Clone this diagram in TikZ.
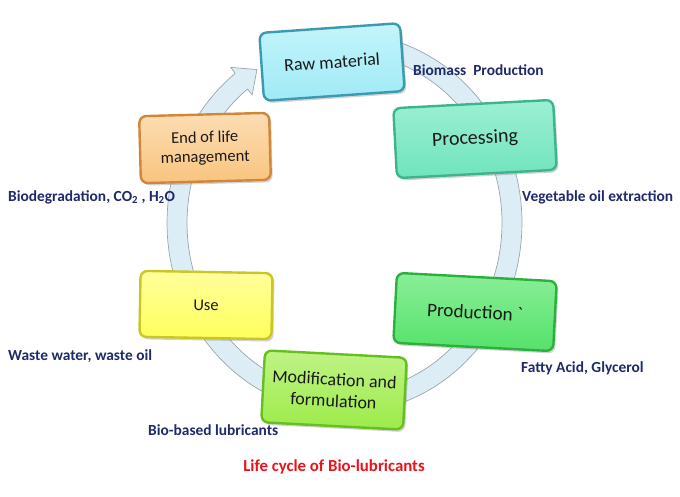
\documentclass[tikz,border=0pt]{standalone}
\usepackage{fontspec}
\setmainfont{Carlito}
\usetikzlibrary{shadows}
\definecolor{navy}{HTML}{1F2A6B}
\definecolor{titlered}{HTML}{E8141B}
\definecolor{txt}{HTML}{1A1A1A}
\definecolor{ringfill}{HTML}{DDEDF5}
\definecolor{ringedge}{HTML}{9AA6AE}
\definecolor{rawF}{HTML}{9FEAF6}\definecolor{rawL}{HTML}{C4F4FB}\definecolor{rawD}{HTML}{3A9AB0}
\definecolor{proF}{HTML}{6FE4BD}\definecolor{proL}{HTML}{9CEFD3}\definecolor{proD}{HTML}{3DB58C}
\definecolor{prdF}{HTML}{55E26A}\definecolor{prdL}{HTML}{8AEE98}\definecolor{prdD}{HTML}{2CB03D}
\definecolor{modF}{HTML}{9DEB4A}\definecolor{modL}{HTML}{BFF386}\definecolor{modD}{HTML}{66BE1F}
\definecolor{useF}{HTML}{FFFF5C}\definecolor{useL}{HTML}{FFFF9C}\definecolor{useD}{HTML}{C9C626}
\definecolor{endF}{HTML}{F9C47F}\definecolor{endL}{HTML}{FCDDB2}\definecolor{endD}{HTML}{D1873A}
\begin{document}
\begin{tikzpicture}[x=1pt,y=-1pt,
  box/.style={rounded corners=7pt, line width=2.4pt, align=center, text=txt,
    inner sep=0pt,
    drop shadow={shadow xshift=2pt, shadow yshift=-2.5pt, opacity=0.35}},
  lab/.style={font=\bfseries\fontsize{15.4}{18}\selectfont, text=navy, anchor=west, inner sep=0pt},
  ttl/.style={font=\bfseries\fontsize{16.8}{19}\selectfont, text=titlered, inner sep=0pt}]
\useasboundingbox (0,0) rectangle (680,496);
% cycle ring with arrowhead
\filldraw[fill=ringfill, draw=ringedge, line width=0.7pt, line join=round]
  plot[domain=90:-232, samples=140] ({344.5+177.5*cos(\x)},{223-190*sin(\x)})
  -- ({344.5+185*cos(-232)},{223-197.5*sin(-232)})
  -- ({344.5+167.5*cos(-238.5)},{223-180*sin(-238.5)})
  -- ({344.5+150*cos(-232)},{223-162.5*sin(-232)})
  -- plot[domain=-232:90, samples=140] ({344.5+157.5*cos(\x)},{223-170*sin(\x)})
  -- cycle;
% boxes
\node[box, draw=rawD, top color=rawL, bottom color=rawF, minimum width=141pt, minimum height=68pt, rotate=4, font=\fontsize{18}{22}\selectfont] (raw) at (332,62) {Raw material};
\node[box, draw=proD, top color=proL, bottom color=proF, minimum width=160pt, minimum height=70pt, rotate=3, font=\fontsize{20}{24}\selectfont] (proc) at (475,139) {Processing};
\node[box, draw=prdD, top color=prdL, bottom color=prdF, minimum width=160pt, minimum height=70pt, rotate=-3, font=\fontsize{19.2}{23}\selectfont] (prod) at (475,312) {Production \textasciigrave};
\node[box, draw=modD, top color=modL, bottom color=modF, minimum width=142pt, minimum height=72pt, rotate=-3, font=\fontsize{18}{21.5}\selectfont] (mod) at (334,390) {Modification and\\formulation};
\node[box, draw=useD, top color=useL, bottom color=useF, minimum width=132pt, minimum height=66pt, rotate=-1, font=\fontsize{16.5}{20}\selectfont] (use) at (206,305) {Use};
\node[box, draw=endD, top color=endL, bottom color=endF, minimum width=130pt, minimum height=67pt, rotate=1.5, font=\fontsize{16.5}{19.5}\selectfont] (eol) at (205,148) {End of life\\management};
% labels
\node[lab] (l1) at (413,70) {Biomass\ \ Production};
\node[lab] (l2) at (522,197) {Vegetable oil extraction};
\node[lab] (l3) at (521,368) {Fatty Acid, Glycerol};
\node[lab] (l4) at (148,430) {Bio-based lubricants};
\node[lab] (l5) at (8,356) {Waste water, waste oil};
\node[lab] (l6) at (8,197) {Biodegradation, CO\textsubscript{2} , H\textsubscript{2}O};
\node[ttl] (title) at (334,467) {Life cycle of Bio-lubricants};
\end{tikzpicture}
\end{document}
